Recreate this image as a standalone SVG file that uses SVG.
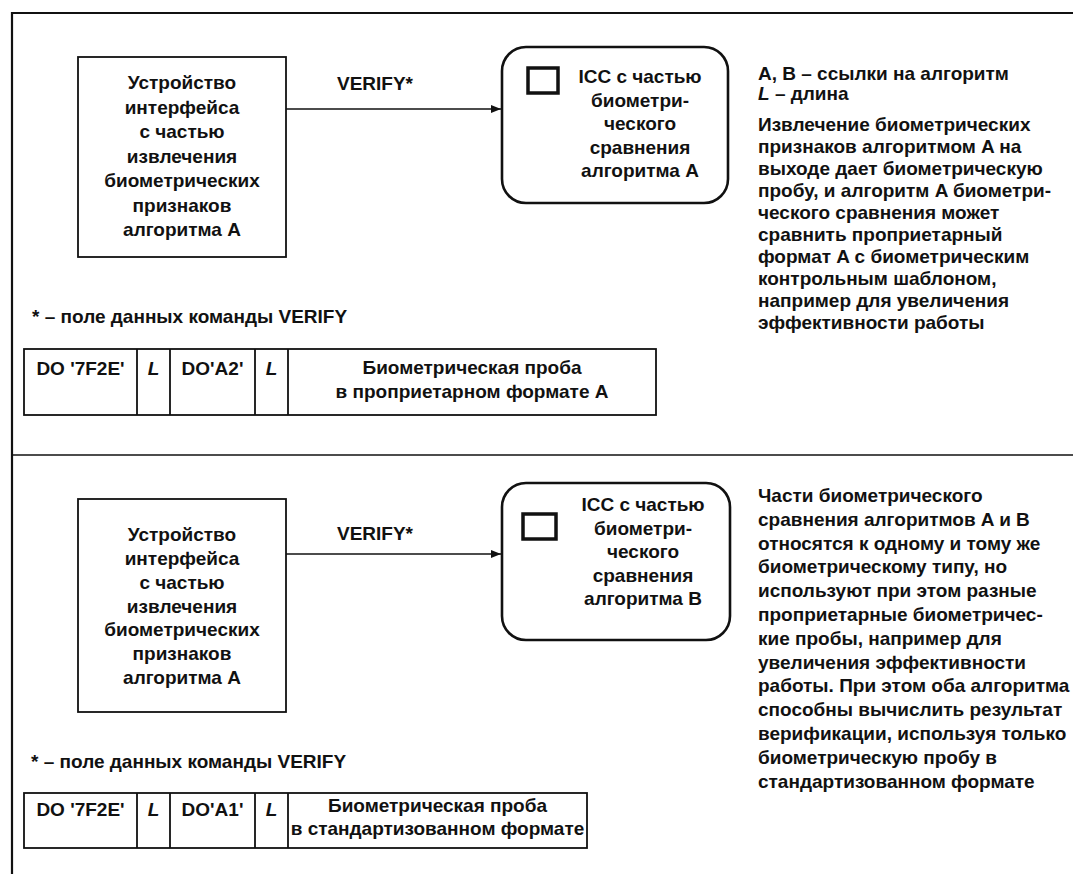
<svg xmlns="http://www.w3.org/2000/svg" width="1073" height="874" viewBox="0 0 1073 874">
<style>
.t{font-family:"Liberation Sans",Arial,sans-serif;font-weight:bold;font-size:19px;fill:#111}
.c{text-anchor:middle}
.i{font-style:italic}
.box{fill:none;stroke:#111;stroke-width:1.8}
.rbox{fill:none;stroke:#111;stroke-width:2.6}
.sq{fill:none;stroke:#111;stroke-width:3.5}
.ln{stroke:#111;stroke-width:1.6;fill:none}
.fr{stroke:#111;stroke-width:2.2;fill:none}
</style>
<defs>
<marker id="ah" markerWidth="10" markerHeight="8" refX="10" refY="4" orient="auto" markerUnits="userSpaceOnUse">
<path d="M0,0 L10,4 L0,8 z" fill="#111"/>
</marker>
</defs>
<rect width="1073" height="874" fill="#fff"/>
<g id="frame">
<path class="fr" d="M1073,13 H12 V874"/>
<path class="ln" d="M12,455 H1073"/>
</g>
<g id="connectors">
<path class="ln" d="M286,109 H501" marker-end="url(#ah)"/>
<path class="ln" d="M286,554 H501" marker-end="url(#ah)"/>
</g>
<g id="verify-label-1"><text class="t c" x="375" y="90">VERIFY*</text></g>
<g id="verify-label-2"><text class="t c" x="375" y="540">VERIFY*</text></g>
<g id="device-1">
<rect class="box" x="78" y="57" width="208" height="200"/>
<text class="t c" x="182" y="89">Устройство</text>
<text class="t c" x="182" y="113.5">интерфейса</text>
<text class="t c" x="182" y="138">с частью</text>
<text class="t c" x="182" y="162.5">извлечения</text>
<text class="t c" x="182" y="187">биометрических</text>
<text class="t c" x="182" y="211.5">признаков</text>
<text class="t c" x="182" y="236">алгоритма A</text>
</g>
<g id="icc-1">
<rect class="rbox" x="502" y="47" width="226" height="156" rx="24" ry="24"/>
<rect class="sq" x="528" y="68" width="30" height="25"/>
<text class="t c" x="640" y="83">ICC с частью</text>
<text class="t c" x="640" y="106.5">биометри-</text>
<text class="t c" x="640" y="130">ческого</text>
<text class="t c" x="640" y="153.5">сравнения</text>
<text class="t c" x="640" y="177">алгоритма A</text>
</g>
<g id="notes-1">
<text class="t" x="758" y="80">A, B – ссылки на алгоритм</text>
<text class="t" x="758" y="100"><tspan class="i">L</tspan> – длина</text>
<text class="t" x="758" y="131">Извлечение биометрических</text>
<text class="t" x="758" y="153">признаков алгоритмом A на</text>
<text class="t" x="758" y="175">выходе дает биометрическую</text>
<text class="t" x="758" y="197">пробу, и алгоритм A биометри-</text>
<text class="t" x="758" y="219">ческого сравнения может</text>
<text class="t" x="758" y="241">сравнить проприетарный</text>
<text class="t" x="758" y="263">формат A с биометрическим</text>
<text class="t" x="758" y="285">контрольным шаблоном,</text>
<text class="t" x="758" y="307">например для увеличения</text>
<text class="t" x="758" y="329">эффективности работы</text>
</g>
<g id="footnote-1"><text class="t" x="32" y="323">* – поле данных команды VERIFY</text></g>
<g id="table-1">
<rect class="box" x="24" y="349" width="632" height="66"/>
<path class="box" d="M137,349 V415 M170,349 V415 M255,349 V415 M288,349 V415"/>
<text class="t c" x="80.5" y="375">DO '7F2E'</text>
<text class="t c i" x="153.5" y="375">L</text>
<text class="t c" x="212.5" y="375">DO'A2'</text>
<text class="t c i" x="271.5" y="375">L</text>
<text class="t c" x="472" y="374">Биометрическая проба</text>
<text class="t c" x="472" y="398">в проприетарном формате A</text>
</g>
<g id="device-2">
<rect class="box" x="78" y="499" width="208" height="213"/>
<text class="t c" x="182" y="541">Устройство</text>
<text class="t c" x="182" y="565">интерфейса</text>
<text class="t c" x="182" y="589">с частью</text>
<text class="t c" x="182" y="612.5">извлечения</text>
<text class="t c" x="182" y="636">биометрических</text>
<text class="t c" x="182" y="660">признаков</text>
<text class="t c" x="182" y="684">алгоритма A</text>
</g>
<g id="icc-2">
<rect class="rbox" x="502" y="483" width="228" height="157" rx="24" ry="24"/>
<rect class="sq" x="523" y="514" width="33" height="25"/>
<text class="t c" x="643" y="511">ICC с частью</text>
<text class="t c" x="643" y="534.5">биометри-</text>
<text class="t c" x="643" y="558">ческого</text>
<text class="t c" x="643" y="581.5">сравнения</text>
<text class="t c" x="643" y="605">алгоритма B</text>
</g>
<g id="notes-2">
<text class="t" x="758" y="502">Части биометрического</text>
<text class="t" x="758" y="525.8">сравнения алгоритмов A и B</text>
<text class="t" x="758" y="549.6">относятся к одному и тому же</text>
<text class="t" x="758" y="573.4">биометрическому типу, но</text>
<text class="t" x="758" y="597.2">используют при этом разные</text>
<text class="t" x="758" y="621">проприетарные биометричес-</text>
<text class="t" x="758" y="644.8">кие пробы, например для</text>
<text class="t" x="758" y="668.6">увеличения эффективности</text>
<text class="t" x="758" y="692.4">работы. При этом оба алгоритма</text>
<text class="t" x="758" y="716.2">способны вычислить результат</text>
<text class="t" x="758" y="740">верификации, используя только</text>
<text class="t" x="758" y="763.8">биометрическую пробу в</text>
<text class="t" x="758" y="787.6">стандартизованном формате</text>
</g>
<g id="footnote-2"><text class="t" x="31" y="768">* – поле данных команды VERIFY</text></g>
<g id="table-2">
<rect class="box" x="24" y="793" width="563" height="55"/>
<path class="box" d="M137,793 V848 M170,793 V848 M255,793 V848 M288,793 V848"/>
<text class="t c" x="80.5" y="816">DO '7F2E'</text>
<text class="t c i" x="153.5" y="816">L</text>
<text class="t c" x="212.5" y="816">DO'A1'</text>
<text class="t c i" x="271.5" y="816">L</text>
<text class="t c" x="437.5" y="812">Биометрическая проба</text>
<text class="t c" x="437.5" y="835">в стандартизованном формате</text>
</g>
</svg>
